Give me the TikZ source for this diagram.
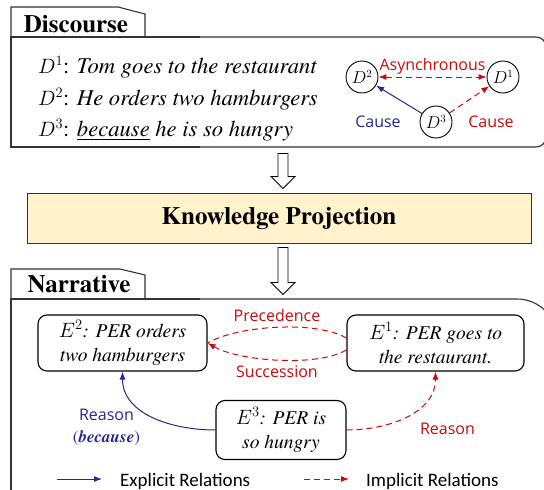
\documentclass[tikz,border=0pt]{standalone}
\usepackage{amsmath}
\usepackage{fontspec}
\setmainfont{texgyretermes}[Extension=.otf, UprightFont=*-regular, BoldFont=*-bold, ItalicFont=*-italic, BoldItalicFont=*-bolditalic]
\newfontfamily\calibrifont{Carlito}
\newfontfamily\comicfont{Open Sans}
\usetikzlibrary{arrows.meta,positioning}

\definecolor{relblue}{RGB}{38,38,145}
\definecolor{relred}{RGB}{200,10,10}
\definecolor{kpyellow}{RGB}{255,242,204}

\begin{document}
\begin{tikzpicture}[x=1pt, y=-1pt, on grid, auto,
    frame/.style={draw=black!80, line width=1.1pt},
    title/.style={font=\fontsize{25}{25}\selectfont\bfseries},
    sent/.style={anchor=base west, inner sep=0pt, font=\fontsize{22.6}{22.6}\selectfont},
    doc/.style={circle, draw, line width=0.9pt, minimum size=32pt, inner sep=0pt, font=\fontsize{16}{16}\selectfont},
    proj/.style={draw=black!80, line width=1pt, fill=kpyellow, minimum width=504pt, minimum height=50pt},
    event/.style={draw, line width=1.1pt, rounded corners=9pt, minimum height=56pt, align=center, font=\fontsize{19.5}{24}\selectfont\itshape},
    rel/.style={font=\fontsize{16}{22}\selectfont\comicfont, inner sep=1pt},
    explicit/.style={-{Latex[length=8pt, width=6pt]}, relblue, line width=1pt},
    implicit/.style={-{Latex[length=8pt, width=6pt]}, relred, line width=1pt, dash pattern=on 6pt off 4pt},
    legend/.style={anchor=base west, inner sep=0pt, font=\fontsize{19}{19}\selectfont\calibrifont},
    pics/hollowdown/.style={code={
      \draw[line width=0.9pt, fill=white] (-5,0) -- (5,0) -- (5,#1-12) -- (12,#1-12) -- (0,#1) -- (-12,#1-12) -- (-5,#1-12) -- cycle;}}]
  \path[use as bounding box] (0,0) rectangle (544,490);
  \clip (0,0) rectangle (544,490);

  % discourse
  \draw[frame] (11,37) -- (11,7) -- (118,7) -- (145,14) -- (145,37);
  \node[title, anchor=base] (disc) at (76,32) {Discourse};
  \draw[frame] (200,37) -- (11,37) -- (11,147) -- (200,147);
  \draw[frame, rounded corners=10pt] (200,37) -- (546,37) -- (546,147) -- (200,147);

  \node[sent] (s1) at (38,73) {$D^1$: \textit{Tom goes to the restaurant}};
  \node[sent, below=32pt of s1.base west, anchor=base west] (s2) {$D^2$: \textit{He orders two hamburgers}};
  \node[sent, below=31pt of s2.base west, anchor=base west] (s3) {$D^3$: \underline{\textit{because}} \textit{he is so hungry}};

  \node[doc] (d2) at (362,77) {$D^2$};
  \node[doc, right=141pt of d2] (d1) {$D^1$};
  \node[doc, below right=45pt and 74pt of d2] (d3) {$D^3$};
  \node[rel, relblue, left=58pt of d3] (cause2) {Cause};
  \node[rel, relred, right=55pt of d3] (cause1) {Cause};
  \path[implicit, {Latex[length=8pt, width=6pt]}-{Latex[length=8pt, width=6pt]}] (d2) edge node[rel, above=1pt] (async) {Asynchronous} (d1);
  \path[explicit] (d3) edge (d2);
  \path[implicit] (d3) edge (d1);

  % projection
  \node[proj, title] (kp) at (279,218) {Knowledge Projection};
  \pic at ([xshift=4pt, yshift=39pt]kp.north) {hollowdown=35};
  \pic at ([xshift=4pt, yshift=-4pt]kp.south) {hollowdown=47};

  % narrative
  \draw[frame] (11,299) -- (11,269) -- (120,269) -- (145,275) -- (145,299);
  \node[title, anchor=base] (narr) at (79,292) {Narrative};
  \draw[frame] (200,299) -- (11,299) -- (11,500);
  \draw[frame, rounded corners=40pt] (200,299) -- (557,299) -- (557,500);

  \node[event, minimum width=169pt] (e2) at (122.5,343) {$E^2$: PER orders\\two hamburgers};
  \node[event, minimum width=177pt, right=313pt of e2] (e1) {$E^1$: PER goes to\\the restaurant.};
  \node[event, minimum width=130pt, minimum height=59pt, below right=87pt and 158.5pt of e2] (e3) {$E^3$: PER is\\so hungry};

  \path[implicit, -] ([yshift=5pt]e1.west) edge[out=150, in=30, looseness=0.65] node[rel, above=4pt] (prec) {Precedence} (e2.east);
  \path[implicit] ([yshift=-7pt]e1.west) edge[out=-150, in=-30, looseness=0.65] node[rel, below=4pt] (succ) {Succession} (e2.east);
  \path[explicit] (e3.west) edge[out=180, in=-90] (e2.south);
  \path[implicit] (e3.east) edge[out=0, in=-90] (e1.south);
  \node[rel, relblue, align=center, below left=56pt and 16pt of e2.south, anchor=center] (why2) {Reason\\{\rmfamily\fontsize{17}{17}\selectfont(\textbf{\textit{because}})}};
  \node[rel, relred, below right=57pt and 12pt of e1.south, anchor=center] (why1) {Reason};

  % legend
  \coordinate (ex0) at (57,479);
  \coordinate[right=45pt of ex0] (ex1);
  \path[explicit] (ex0) edge (ex1);
  \node[legend] (exl) at (120,486) {Explicit Relations};
  \coordinate (im0) at (304,479);
  \coordinate[right=45pt of im0] (im1);
  \path[implicit] (im0) edge (im1);
  \node[legend] (iml) at (366,486) {Implicit Relations};
\end{tikzpicture}
\end{document}
